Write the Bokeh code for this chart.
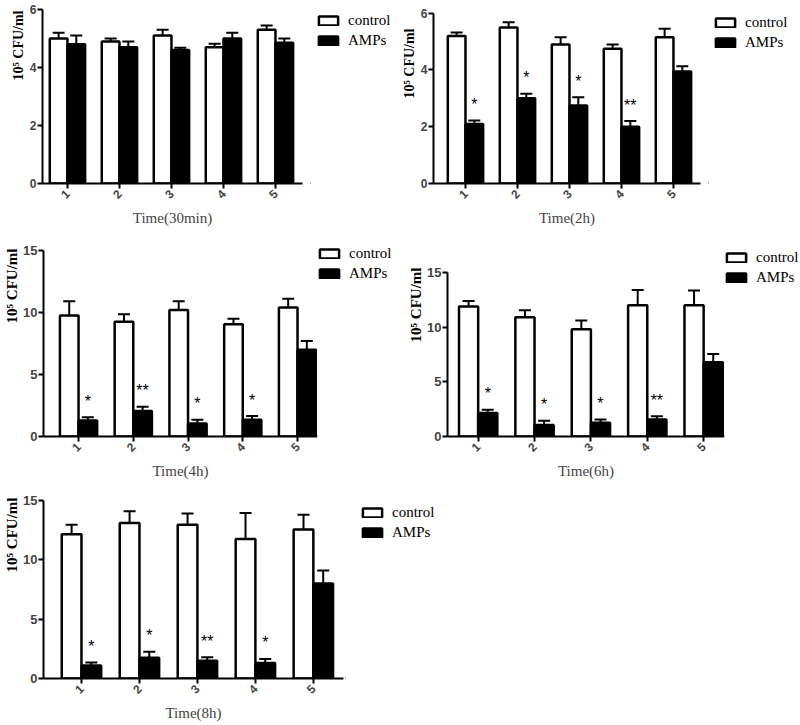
import math
from bokeh.plotting import figure
from bokeh.models import (Range1d, FixedTicker, Legend, LegendItem, Whisker,
                          TeeHead, ColumnDataSource, Title)
from bokeh.layouts import column, row
from bokeh.embed import file_html
from bokeh.resources import INLINE
from bokeh.core.properties import value

# ---------------- data ----------------
groups = [1, 2, 3, 4, 5]
series_names = ["control", "AMPs"]
y_label = "10\u2075 CFU/ml"

titles = ["Time(30min)", "Time(2h)", "Time(4h)", "Time(6h)", "Time(8h)"]
y_ticks_6 = [0, 2, 4, 6]
y_ticks_15 = [0, 5, 10, 15]

ctrl_30min = [5.0, 4.9, 5.1, 4.7, 5.3]
ctrl_30min_err = [0.2, 0.1, 0.2, 0.12, 0.15]
amps_30min = [4.8, 4.7, 4.6, 5.0, 4.85]
amps_30min_err = [0.3, 0.2, 0.08, 0.2, 0.15]
sig_30min = ["", "", "", "", ""]

ctrl_2h = [5.2, 5.5, 4.9, 4.75, 5.15]
ctrl_2h_err = [0.12, 0.18, 0.25, 0.15, 0.3]
amps_2h = [2.1, 3.0, 2.75, 2.0, 3.95]
amps_2h_err = [0.12, 0.16, 0.29, 0.2, 0.18]
sig_2h = ["*", "*", "*", "**", ""]

ctrl_4h = [9.75, 9.25, 10.2, 9.05, 10.4]
ctrl_4h_err = [1.15, 0.6, 0.7, 0.45, 0.7]
amps_4h = [1.3, 2.05, 1.05, 1.35, 7.0]
amps_4h_err = [0.25, 0.35, 0.3, 0.3, 0.7]
sig_4h = ["*", "**", "*", "*", ""]

ctrl_6h = [11.9, 10.9, 9.8, 12.0, 12.0]
ctrl_6h_err = [0.5, 0.65, 0.8, 1.4, 1.35]
amps_6h = [2.15, 1.05, 1.25, 1.55, 6.8]
amps_6h_err = [0.3, 0.4, 0.3, 0.3, 0.75]
sig_6h = ["*", "*", "*", "**", ""]

ctrl_8h = [12.15, 13.1, 12.95, 11.75, 12.55]
ctrl_8h_err = [0.8, 1.0, 0.95, 2.2, 1.25]
amps_8h = [1.1, 1.75, 1.5, 1.3, 8.0]
amps_8h_err = [0.25, 0.5, 0.3, 0.35, 1.1]
sig_8h = ["*", "*", "**", "*", ""]

BAR_W = 0.34
SERIF = "Liberation Serif"
SANS = "Liberation Sans"
CTRL_STYLE = dict(fill_color="white", line_color="black", line_width=2.5)
AMPS_STYLE = dict(fill_color="black", line_color="black", line_width=2.5)


def make_panel(title, ctrl, ctrl_err, amps, amps_err, sig, yticks, L):
    p = figure(width=L["w"], height=L["h"],
               min_border_left=L["l"], min_border_right=L["r"],
               min_border_top=L["t"], min_border_bottom=L["b"],
               x_range=Range1d(*L["xr"]), y_range=Range1d(yticks[0], L["ytop"]),
               output_backend="svg", toolbar_location=None, tools="")
    p.outline_line_color = None
    p.xgrid.grid_line_color = None
    p.ygrid.grid_line_color = None
    p.background_fill_color = "white"
    p.border_fill_color = "white"

    xc = [g - BAR_W / 2 for g in groups]
    xa = [g + BAR_W / 2 for g in groups]
    src_c = ColumnDataSource(dict(x=xc, top=ctrl, hi=[v + e for v, e in zip(ctrl, ctrl_err)]))
    src_a = ColumnDataSource(dict(x=xa, top=amps, hi=[v + e for v, e in zip(amps, amps_err)],
                                  sig=sig))

    p.vbar(x="x", top="top", bottom=0, width=BAR_W, source=src_c, **CTRL_STYLE)
    p.vbar(x="x", top="top", bottom=0, width=BAR_W, source=src_a, **AMPS_STYLE)

    for src in (src_c, src_a):
        w = Whisker(base="x", lower="top", upper="hi", source=src,
                    line_color="black", line_width=2,
                    upper_head=TeeHead(size=12, line_color="black", line_width=2),
                    lower_head=None, level="glyph")
        p.add_layout(w)

    p.text(x="x", y="hi", text="sig", source=src_a, y_offset=-16,
           text_align="center", text_baseline="middle",
           text_font=value(SANS), text_font_size="16px", text_color="black")

    xa_ = p.xaxis[0]
    xa_.ticker = FixedTicker(ticks=groups)
    xa_.minor_tick_line_color = None
    xa_.major_tick_in = 0
    xa_.major_tick_out = 5
    xa_.major_tick_line_width = 2
    xa_.axis_line_width = 2
    xa_.major_label_orientation = math.pi / 4
    xa_.major_label_text_font = SANS
    xa_.major_label_text_font_style = "bold"
    xa_.major_label_text_font_size = "12px"
    xa_.major_label_standoff = 3
    xa_.axis_label = title
    xa_.axis_label_text_font = SERIF
    xa_.axis_label_text_font_style = "normal"
    xa_.axis_label_text_font_size = "15px"
    xa_.axis_label_standoff = 4

    ya_ = p.yaxis[0]
    ya_.ticker = FixedTicker(ticks=yticks)
    ya_.bounds = (yticks[0], yticks[-1])
    ya_.minor_tick_line_color = None
    ya_.major_tick_in = 0
    ya_.major_tick_out = 5
    ya_.major_tick_line_width = 2
    ya_.axis_line_width = 2
    ya_.major_label_text_font = SANS
    ya_.major_label_text_font_style = "bold"
    ya_.major_label_text_font_size = L["yts"]
    ya_.major_label_standoff = 1

    ytitle = Title(text=y_label, align="right", vertical_align="middle",
                   offset=L["yoff"], standoff=0,
                   text_font=SERIF, text_font_style="bold",
                   text_font_size=L["yls"], text_color="black")
    p.add_layout(ytitle, "left")
    return p


def make_legend(L, W):
    f = figure(width=W, height=L["h"], min_border_left=0, min_border_right=0,
               min_border_top=L["t"], min_border_bottom=L["b"],
               x_range=Range1d(0, 1), y_range=Range1d(0, 1),
               x_axis_location=None, y_axis_location=None,
               output_backend="svg", toolbar_location=None, tools="")
    f.outline_line_color = None
    f.grid.visible = False
    f.background_fill_color = "white"
    f.border_fill_color = "white"
    # legend-key renderers: one zero-height entry outside the visible range
    rc = f.vbar(x=[-1], top=[0], bottom=0, width=0.1, **CTRL_STYLE)
    ra = f.vbar(x=[-1], top=[0], bottom=0, width=0.1, **AMPS_STYLE)
    legend = Legend(items=[LegendItem(label=series_names[0], renderers=[rc]),
                           LegendItem(label=series_names[1], renderers=[ra])],
                    location=L["leg"], orientation="vertical",
                    glyph_width=24, glyph_height=11, label_height=20,
                    label_standoff=8, spacing=0, padding=0, margin=0,
                    border_line_color=None, background_fill_color=None,
                    background_fill_alpha=0,
                    label_text_font=SERIF, label_text_font_size="15px",
                    label_text_color="black")
    f.add_layout(legend)
    return f


# row 1: canvas y 0..236, frames 9..183
lay1 = dict(w=310, h=236, l=42, r=8, t=9, b=53, xr=(0.52, 5.52), ytop=6,
            leg=(6, 133), yts="12px", yls="14px", yoff=1)
lay2 = dict(w=308, h=236, l=33, r=8, t=9, b=53, xr=(0.385, 5.52), ytop=6.13,
            leg=(5, 131), yts="12px", yls="14px", yoff=19)
# row 2: canvas y 236..488, frames 243..436
lay3 = dict(w=317, h=252, l=43, r=0, t=7, b=52, xr=(0.36, 5.365), ytop=15.565,
            leg=(0, 153), yts="13px", yls="15px", yoff=5)
lay4 = dict(w=318, h=252, l=38, r=0, t=7, b=52, xr=(0.456, 5.37), ytop=17.652,
            leg=(0, 149), yts="13px", yls="15px", yoff=24)
# row 3: canvas y 488..724, frame 500..678
lay5 = dict(w=345, h=236, l=43, r=2, t=12, b=46, xr=(0.345, 5.52), ytop=15,
            leg=(15, 136), yts="13px", yls="15px", yoff=-3)

p1 = make_panel(titles[0], ctrl_30min, ctrl_30min_err, amps_30min, amps_30min_err, sig_30min, y_ticks_6, lay1)
p2 = make_panel(titles[1], ctrl_2h, ctrl_2h_err, amps_2h, amps_2h_err, sig_2h, y_ticks_6, lay2)
p3 = make_panel(titles[2], ctrl_4h, ctrl_4h_err, amps_4h, amps_4h_err, sig_4h, y_ticks_15, lay3)
p4 = make_panel(titles[3], ctrl_6h, ctrl_6h_err, amps_6h, amps_6h_err, sig_6h, y_ticks_15, lay4)
p5 = make_panel(titles[4], ctrl_8h, ctrl_8h_err, amps_8h, amps_8h_err, sig_8h, y_ticks_15, lay5)

g1 = make_legend(lay1, 90)
g2 = make_legend(lay2, 92)
g3 = make_legend(lay3, 89)
g4 = make_legend(lay4, 76)
g5 = make_legend(lay5, 100)

page = column(row(p1, g1, p2, g2, spacing=0),
              row(p3, g3, p4, g4, spacing=0),
              row(p5, g5, spacing=0), spacing=0)

open("out.html", "w").write(file_html(page, INLINE))
